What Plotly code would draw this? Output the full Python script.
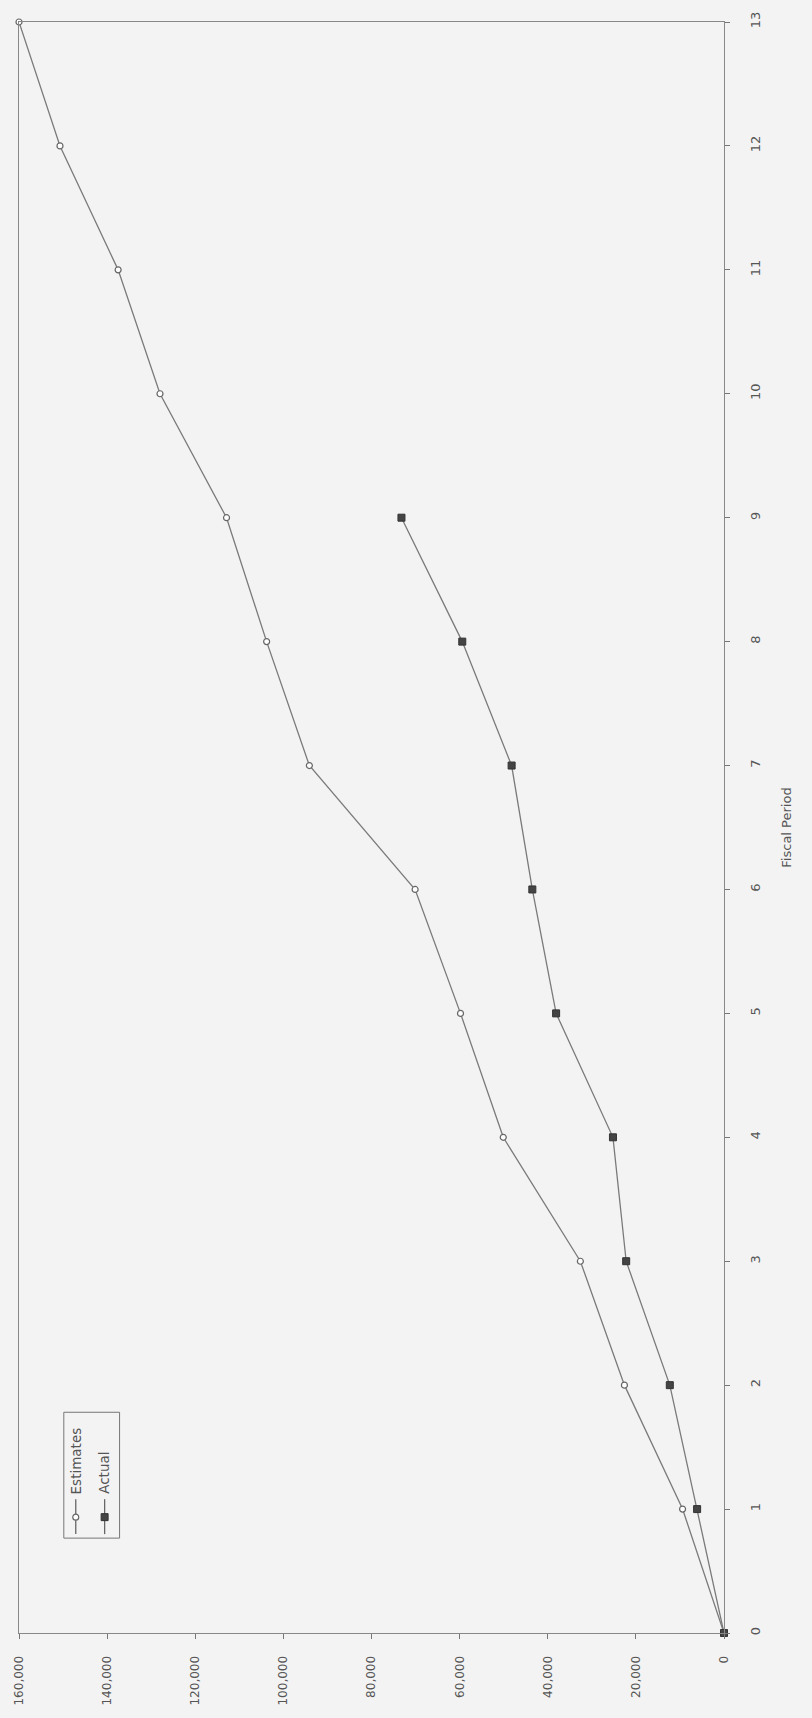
import plotly.graph_objects as go

# Data (chart is drawn rotated: values run right-to-left, periods bottom-to-top)
periods_est = [0, 1, 2, 3, 4, 5, 6, 7, 8, 9, 10, 11, 12, 13]
estimates = [0, 9400, 22600, 32600, 50100, 59800, 70100, 94100, 103800, 112900, 128000, 137500, 150700, 160000]
periods_act = [0, 1, 2, 3, 4, 5, 6, 7, 8, 9]
actual = [0, 6100, 12300, 22200, 25200, 38100, 43500, 48200, 59400, 73200]
value_ticks = [0, 20000, 40000, 60000, 80000, 100000, 120000, 140000, 160000]
period_ticks = list(range(0, 14))

BG = "#f3f3f3"
LINE = "#7a7a7a"
TXT = "#555555"
FONT = "DejaVu Sans"

# plot area in pixels
W, H = 812, 1718
L, R, T, B = 16, 724, 21, 1634


def px(xp):
    return (xp - L) / (R - L)


def py(yp):
    return (B - yp) / (B - T)


fig = go.Figure()
fig.add_trace(go.Scatter(
    x=estimates, y=periods_est, mode="lines+markers", name="Estimates",
    line=dict(color=LINE, width=1.3),
    marker=dict(symbol="circle", size=6, color="white", line=dict(color="#666666", width=1.2)),
    showlegend=False, cliponaxis=False,
))
fig.add_trace(go.Scatter(
    x=actual, y=periods_act, mode="lines+markers", name="Actual",
    line=dict(color=LINE, width=1.3),
    marker=dict(symbol="square", size=7, color="#444444", line=dict(color="#333333", width=1)),
    showlegend=False, cliponaxis=False,
))

shapes = []
annotations = []
# legend box
shapes.append(dict(type="rect", xref="paper", yref="paper",
                   x0=px(61), x1=px(117), y0=py(1539), y1=py(1413),
                   line=dict(color="#777777", width=1), fillcolor="rgba(0,0,0,0)"))
for xc, name, filled in [(73, "Estimates", False), (102, "Actual", True)]:
    shapes.append(dict(type="line", xref="paper", yref="paper",
                       x0=px(xc), x1=px(xc), y0=py(1535), y1=py(1500),
                       line=dict(color="#666666", width=1.3)))
    if filled:
        shapes.append(dict(type="rect", xref="paper", yref="paper",
                           x0=px(xc - 3.5), x1=px(xc + 3.5), y0=py(1521.5), y1=py(1514.5),
                           line=dict(color="#333333", width=1), fillcolor="#444444"))
    else:
        shapes.append(dict(type="circle", xref="paper", yref="paper",
                           x0=px(xc - 3), x1=px(xc + 3), y0=py(1521), y1=py(1515),
                           line=dict(color="#666666", width=1.2), fillcolor="white"))
    annotations.append(dict(text=name, xref="paper", yref="paper",
                            x=px(xc), y=py(1497), xanchor="center", yanchor="bottom",
                            textangle=-90, showarrow=False,
                            font=dict(family=FONT, size=13.5, color=TXT)))

fig.update_layout(
    width=W, height=H,
    margin=dict(l=L, r=W - R, t=T, b=H - B, pad=0),
    paper_bgcolor=BG, plot_bgcolor=BG,
    font=dict(family=FONT, color=TXT, size=12),
    shapes=shapes, annotations=annotations,
    showlegend=False,
    xaxis=dict(
        range=[160000, 0], tickvals=value_ticks, tickformat=",d",
        tickangle=-90, ticks="outside", ticklen=5, tickcolor="#777777",
        ticklabelstandoff=12,
        showline=True, linecolor="#888888", linewidth=1.2, mirror=True,
        showgrid=False, zeroline=False,
        tickfont=dict(family=FONT, size=12, color=TXT),
    ),
    yaxis=dict(
        range=[0, 13], tickvals=period_ticks, side="right",
        tickangle=-90, ticks="outside", ticklen=5, tickcolor="#777777",
        ticklabelstandoff=14,
        showline=True, linecolor="#888888", linewidth=1.2, mirror=True,
        showgrid=False, zeroline=False,
        tickfont=dict(family=FONT, size=13, color=TXT),
        title=dict(text="Fiscal Period", standoff=20,
                   font=dict(family=FONT, size=13, color=TXT)),
    ),
)

fig.write_html("out.html")
